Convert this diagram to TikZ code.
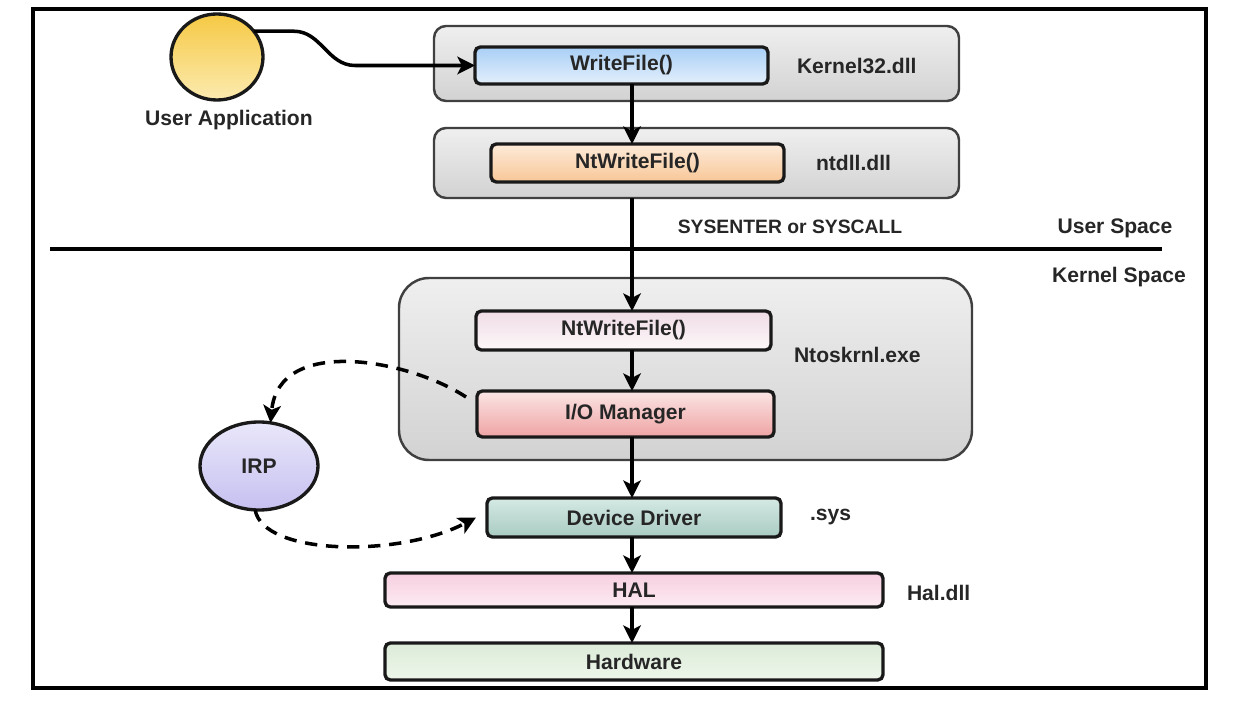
\documentclass[tikz,border=0pt]{standalone}
\usepackage{fontspec}
\setmainfont{Liberation Sans}
\usepackage{tikz}
\usetikzlibrary{positioning}
\usetikzlibrary{shapes.geometric}
\usetikzlibrary{arrows.meta}

\definecolor{grpTop}{HTML}{EFEFEF}
\definecolor{grpBot}{HTML}{D2D2D2}
\definecolor{wfTop}{HTML}{A9CFF6}
\definecolor{wfBot}{HTML}{E3EFFB}
\definecolor{ntuTop}{HTML}{FDEBD9}
\definecolor{ntuBot}{HTML}{F8C697}
\definecolor{ntkTop}{HTML}{F0DCE6}
\definecolor{ntkBot}{HTML}{FCF8FA}
\definecolor{ioTop}{HTML}{FBE5E5}
\definecolor{ioBot}{HTML}{EFA3A3}
\definecolor{ddTop}{HTML}{D5E9E4}
\definecolor{ddBot}{HTML}{A8CBC2}
\definecolor{halTop}{HTML}{F7CFE0}
\definecolor{halBot}{HTML}{FCEBF2}
\definecolor{hwTop}{HTML}{DCEBD8}
\definecolor{hwBot}{HTML}{EEF6EB}
\definecolor{appTop}{HTML}{F6C944}
\definecolor{appBot}{HTML}{FCEBB0}
\definecolor{irpTop}{HTML}{E9E7FA}
\definecolor{irpBot}{HTML}{C6C0F0}
\definecolor{txt}{HTML}{262626}

\tikzstyle{block} = [draw=black!90, line width=1.9pt, rectangle, rounded corners=3pt, outer sep=0pt, minimum height=0.76cm, font=\fontsize{12}{14}\selectfont\bfseries, text=txt]
\tikzstyle{group} = [draw=black!75, line width=1.4pt, rectangle, rounded corners=0.24cm, outer sep=0pt, top color=grpTop, bottom color=grpBot]
\tikzstyle{bubble} = [draw=black!90, line width=1.9pt, ellipse, outer sep=0pt, font=\fontsize{12}{14}\selectfont\bfseries, text=txt]
\tikzstyle{lbl} = [inner sep=0pt, outer sep=0pt, font=\fontsize{12}{14}\selectfont\bfseries, text=txt]
\tikzstyle{link} = [->, line width=2pt]
\tikzstyle{irplink} = [->, line width=2pt, dash pattern=on 7pt off 5pt]

\begin{document}
\begin{tikzpicture}[auto,node distance=1cm,>={Stealth[length=10pt,width=10pt,inset=2.5pt]}]
    \useasboundingbox (0,0) rectangle (24.68,-14.04);
    \draw [line width=1.8pt] (0.66,-0.18) rectangle (24.12,-13.76);

    \node [group, minimum width=10.5cm, minimum height=1.5cm] (k32) at (13.93,-1.27) {};
    \node [group, minimum width=10.5cm, minimum height=1.4cm, below=0.54cm of k32] (ntdll) {};
    \node [group, rounded corners=0.6cm, minimum width=11.46cm, minimum height=3.64cm, below=1.6cm of ntdll, xshift=-0.22cm] (ntos) {};

    \node [block, top color=wfTop, bottom color=wfBot, minimum width=5.86cm, minimum height=0.74cm, below right=0.42cm and 0.82cm of k32.north west] (writefile) {WriteFile()};
    \node [block, top color=ntuTop, bottom color=ntuBot, minimum width=5.86cm, below right=0.32cm and 1.14cm of ntdll.north west] (ntwriteu) {NtWriteFile()};
    \node [block, top color=ntkTop, bottom color=ntkBot, minimum width=5.9cm, minimum height=0.78cm, below right=0.66cm and 1.54cm of ntos.north west] (ntwritek) {NtWriteFile()};
    \node [block, top color=ioTop, bottom color=ioBot, minimum width=5.94cm, minimum height=0.92cm, below=0.82cm of ntwritek, xshift=0.04cm] (iomgr) {I/O Manager};
    \node [block, top color=ddTop, bottom color=ddBot, minimum width=5.88cm, minimum height=0.78cm, below=1.22cm of iomgr, xshift=0.17cm] (devdrv) {Device Driver};
    \node [block, top color=halTop, bottom color=halBot, minimum width=9.96cm, minimum height=0.68cm, below=0.72cm of devdrv] (hal) {HAL};
    \node [block, top color=hwTop, bottom color=hwBot, minimum width=9.96cm, minimum height=0.74cm, below=0.72cm of hal] (hardware) {Hardware};

    \node [bubble, top color=appTop, bottom color=appBot, minimum width=1.84cm, minimum height=1.72cm, left=4.24cm of writefile, yshift=0.17cm] (userapp) {};
    \node [lbl, below=0.2cm of userapp, xshift=0.24cm] (applbl) {User Application};
    \node [bubble, top color=irpTop, bottom color=irpBot, minimum width=2.36cm, minimum height=1.76cm, left=3.18cm of iomgr, yshift=-1.04cm] (irp) {IRP};

    \node [lbl, right=0.58cm of writefile] (k32lbl) {Kernel32.dll};
    \node [lbl, right=0.64cm of ntwriteu] (ntdlllbl) {ntdll.dll};
    \node [lbl, right=0.46cm of ntwritek, yshift=-0.48cm] (ntoslbl) {Ntoskrnl.exe};
    \node [lbl, right=0.58cm of devdrv] (syslbl) {.sys};
    \node [lbl, right=0.48cm of hal, yshift=-0.06cm] (hallbl) {Hal.dll};

    \coordinate (sepL) at (1.0,-4.98);
    \coordinate (sepR) at (23.24,-4.98);
    \coordinate (col) at (12.64,0);
    \node [lbl, font=\fontsize{11}{13}\selectfont\bfseries] (syscall) at (15.8,-4.54) {SYSENTER or SYSCALL};
    \node [lbl] (userspace) at (22.3,-4.56) {User Space};
    \node [lbl] (kernelspace) at (22.38,-5.54) {Kernel Space};

    \draw [line width=1.8pt] (sepL) -- (sepR);
    \draw [link] (userapp.35) -- ++(0.8,0) to[out=0,in=180] ([xshift=-2.4cm]writefile.west) -- (writefile.west);
    \draw [link] (writefile.south -| col) -- (ntwriteu.north -| col);
    \draw [link] (ntdll.south -| col) -- (ntwritek.north -| col);
    \draw [link] (ntwritek.south -| col) -- (iomgr.north -| col);
    \draw [link] (iomgr.south -| col) -- (devdrv.north -| col);
    \draw [link] (devdrv.south -| col) -- (hal.north -| col);
    \draw [link] (hal.south -| col) -- (hardware.north -| col);
    \draw [irplink] ([xshift=-0.22cm,yshift=-0.12cm]iomgr.north west) .. controls +(-1.12,0.74) and +(0.16,1.76) .. (irp.75);
    \draw [irplink] (irp.265) .. controls +(0.16,-0.92) and +(-1.52,-0.8) .. ([xshift=-0.22cm]devdrv.west);
\end{tikzpicture}
\end{document}
